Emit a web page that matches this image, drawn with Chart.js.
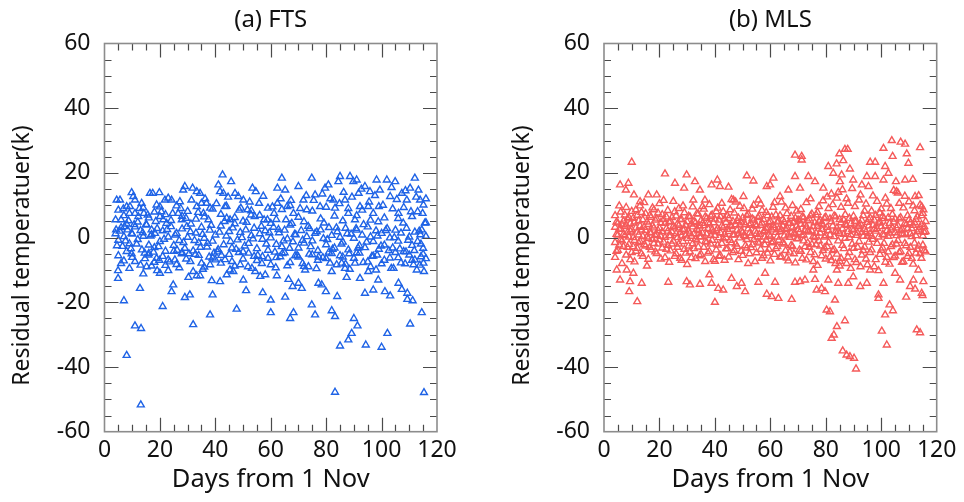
<!DOCTYPE html>
<html><head><meta charset="utf-8">
<script src="https://cdn.jsdelivr.net/npm/chart.js@4"></script>
<style>
html,body{margin:0;padding:0;background:#fff;}
#wrap{position:relative;width:964px;height:502px;overflow:hidden;}
.panel{position:absolute;top:0;width:482px;height:502px;}
</style></head><body>
<div id="wrap">
<div class="panel" style="left:0"><canvas id="c1" width="482" height="502"></canvas></div>
<div class="panel" style="left:482px"><canvas id="c2" width="482" height="502"></canvas></div>
</div>
<script>
// ---- text / ticks ----
const panelTitles = ['(a) FTS', '(b) MLS'];
const xAxisTitle = 'Days from 1 Nov';
const yAxisTitle = 'Residual temperatuer(k)      ';
const xRange = [0, 120];
const yRange = [-60, 60];
const xStep = 20;
const yStep = 20;

// ---- (a) FTS residuals: [day, residual K] ----
const ftsUpper = [[4.4,11.6],[5.6,11.6],[4,5.5],[6,5.5],[4.2,2.4],[9.8,13.9],[10.4,12.7],[11,11.6],[8,9.6],[9.2,9.6],[7.2,3.4],[8.3,2.4],[9.8,1.3],[11,7.5],[12.2,6.5],[13.4,10.6],[14.2,7.5],[16.4,13.7],[17.4,13.7],[18.8,10.1],[15.2,3.9],[17,2.4],[18.2,1.3],[19.8,13.9],[21.8,11.6],[23,12.2],[24.2,11.6],[20,6.5],[21.2,5.5],[22.4,4.4],[27.2,11.1],[28.4,14.7],[29,15.8],[26.6,7.5],[27.9,5.5],[29.7,3.4],[31.8,15.3],[33.3,14.2],[34.5,13.7],[31.4,11.6],[33.3,9.6],[35,10.6],[36.8,10.6],[38.1,9.1],[35.7,7.5],[37.5,5.5],[41.1,16.3],[41.7,14.2],[42.6,19.4],[42.9,13.7],[43.5,9.6],[44.1,6],[45.3,5.5],[45.7,17.3],[47.1,13.7],[48.3,12.7],[50.1,11.6],[49.2,9.1],[51.6,8.6],[52.9,7],[53.4,15.3],[54.6,14.2],[55.8,10.6],[57.6,5.5],[58.8,5.5],[60,4.4],[61.2,7.5],[62.4,10.6],[64,18.4],[65.2,14.7],[62.4,15.3],[65.9,9.6],[67.6,4.4],[68.2,7.5],[70,15.8],[71.8,11.6],[73,8.6],[74.8,18.4],[76,13.2],[77.8,9.6],[79.6,15.3],[80.8,16.3],[82.6,11.6],[83.2,9.1],[84.4,17.3],[85,18.9],[86.8,11.6],[88.6,18.9],[89.8,17.3],[91,17.8],[91.7,13.7],[88,7.5],[90.4,5.5],[92.2,9.6],[94,15.8],[95.8,14.2],[98.2,17.8],[99.4,14.7],[95.2,9.6],[97,7.5],[98.8,4.9],[101.9,17.8],[103.1,12.7],[104.9,17.3],[106.1,7.5],[107.3,13.7],[109.1,11.6],[110.3,15.3],[112,18.4],[113.3,14.7],[113.9,11.6],[115.1,10.1],[114.8,7.5],[114.5,2.4]];
const ftsLower = [[4.9,-10.2],[4.9,-12.6],[7,-19.5],[11,-27.3],[13.2,-28.1],[8,-36.4],[13.1,-51.7],[8,-4.3],[9.8,-5],[11,-7.4],[12.8,-15.7],[14,-11.2],[15.2,-9],[15.8,-5.4],[18.8,-6.4],[19,-10.2],[20,-11],[21,-21.3],[23,-10.2],[24.2,-16.7],[24.8,-14.6],[25.4,-6.9],[27.9,-5],[29,-18.5],[30.8,-17.7],[30.3,-12.3],[32,-10.5],[33.3,-11.8],[34.5,-11.8],[32,-26.9],[35,-7.9],[38.1,-8.4],[38.1,-23.9],[38.7,-13.3],[39,-17.7],[40,-6.9],[41.7,-13.6],[44.1,-11.5],[45.3,-10],[46.5,-10.5],[47.7,-22.1],[49,-8.4],[50.1,-13.1],[51.1,-16.4],[53.2,-9.5],[54.4,-10.5],[56.2,-12],[57.1,-17],[58,-11.5],[60,-19.3],[60,-23.2],[62.2,-11.8],[63.4,-5.9],[65.2,-18.4],[66.4,-12.9],[67,-25],[67.9,-15.1],[68.2,-23.2],[70,-14.1],[71.2,-15.7],[72.4,-10],[73.6,-9],[74.8,-20.8],[76,-23.9],[77.2,-14.1],[78.4,-14.6],[79.9,-16.7],[81.4,-7.9],[82,-22.6],[82,-10.5],[83.2,-24.4],[83.2,-47.8],[84,-18.2],[85,-33.5],[85.6,-7.9],[86.8,-9.5],[87.4,-12.3],[88,-31.6],[89.2,-29.6],[90,-25],[91.3,-27.3],[90.4,-7.9],[92.2,-12.6],[94,-17.2],[94.3,-33.2],[95.2,-10.5],[97,-16.2],[98,-10],[98.8,-13.1],[100,-33.9],[101.2,-16.7],[102.1,-29.6],[103.1,-18],[104.3,-9.5],[106.1,-14.1],[107.3,-16],[108.5,-8.1],[109.3,-17.2],[109.3,-19.1],[110.3,-26.7],[111.2,-19.5],[111.5,-8.4],[112.7,-10],[114.5,-23.2],[114.2,-5.9],[115.3,-47.9],[115.3,-10.5],[115.1,-7.9]];
const ftsMiddle = [[4,1.2],[5,-0.8],[6,3.1],[6.5,-2.7],[7,0.3],[8,4.2],[9,-1.9],[10,1.1],[11,3.3],[12,-0.6],[13,2.2],[13.5,-3.8],[14,0.4],[15,4.1],[16,-2.3],[17,0.9],[18,-3.1],[19,2.8],[20,-1.2],[21,2.1],[22,-4.2],[23,0.2],[24,3.4],[25,-2.4],[26,1.3],[27,-0.9],[28,2.7],[29,-3.3],[30,0.1],[31,1.8],[32,-4.1],[33,1.4],[34,-1.6],[35,3.2],[36,-0.2],[37,-2.9],[38,2.3],[39,-1.1],[40,0.8],[41,-3.7],[42,3.6],[43,-2.2],[44,0.5],[45,1.9],[46,-3.2],[47,4.3],[48,-0.7],[49,1.6],[50,-4.4],[51,2.4],[52,-1.8],[53,0.6],[54,2.9],[55,-3.4],[56,1.2],[57,-0.5],[58,2.1],[59,-3.9],[60,-0.1],[61,3.2],[62,-2.1],[63,1.5],[64,-2.8],[65,2.3],[66,-0.4],[67,3.9],[68,-1.3],[69,0.9],[70,-3.2],[71,2.2],[72,-1.7],[73,0.3],[74,2.8],[75,-1.0],[76,1.3],[77,-4.0],[78,2.4],[79,-0.3],[80,-2.2],[81,3.1],[82,0.7],[83,-3.2],[84,1.8],[85,0.1],[86,-1.4],[87,2.9],[88,-3.8],[89,1.1],[90,-0.2],[91,2.3],[92,-2.5],[93,0.8],[94,-3.1],[95,3.3],[96,0.2],[97,-1.2],[98,2.1],[99,-3.6],[100,1.3],[101,-2.3],[102,2.8],[103,-0.1],[104,-3.2],[105,2.3],[106,-1.1],[107,1.4],[108,-4.3],[109,2.9],[110,0.2],[111,-2.4],[112,1.7],[113,-1.2],[114,0.9],[115,-3.3],[116,0.4],
[5,8.5],[7,6.8],[9,7.5],[12,4.8],[14,9.2],[16,6.1],[18,7.9],[20,9.5],[22,7.1],[24,5.3],[26,9.8],[28,6.6],[30,8.1],[33,5.7],[36,6.4],[39,8.8],[42,7.2],[44,9.7],[47,6.2],[50,5.1],[53,8.3],[56,6.9],[59,9.1],[62,5.6],[64,8.7],[67,9.9],[70,6.3],[72,4.9],[75,8.2],[78,5.8],[80,9.4],[83,6.7],[86,5.2],[88,9.0],[91,6.8],[93,8.5],[96,5.4],[99,9.6],[101,6.1],[104,8.9],[106,5.9],[108,9.3],[111,6.5],[113,8.0],[116,4.6],
[5,-5.6],[7,-7.2],[10,-6.1],[13,-8.5],[16,-4.9],[18,-7.6],[21,-5.8],[23,-6.9],[26,-8.3],[28,-4.6],[31,-7.4],[34,-5.5],[36,-9.1],[39,-6.3],[42,-7.9],[45,-5.2],[47,-8.8],[50,-6.6],[52,-4.8],[55,-7.1],[57,-5.9],[60,-8.4],[62,-6.2],[65,-4.7],[67,-7.7],[70,-6.0],[72,-8.9],[75,-5.3],[77,-7.0],[80,-6.5],[82,-4.9],[85,-5.6],[87,-8.2],[90,-6.4],[92,-4.8],[95,-7.5],[97,-5.7],[100,-8.1],[103,-6.3],[105,-4.6],[107,-7.8],[110,-5.4],[112,-6.9],[115,-5.1]];
const ftsExtra = [[4.5,-2.5],[5.5,2.0],[6.8,8.9],[7.6,-1.0],[8.7,5.2],[9.5,-3.4],[10.7,4.0],[11.6,-2.0],[12.6,9.0],[13.8,1.5],[14.6,-6.5],[15.6,7.0],[16.6,0.5],[17.7,-4.5],[18.5,5.0],[19.5,-2.8],[20.5,8.0],[21.5,-0.5],[22.6,2.5],[23.5,-7.5],[24.6,7.5],[25.5,0.8],[26.2,-3.9],[27.5,9.0],[28.5,-1.5],[29.4,6.0],[30.5,-5.0],[31.2,4.2],[32.5,-0.9],[33.8,7.8],[34.6,-3.0],[35.4,1.0],[36.3,12.0],[37.2,-1.8],[38.5,3.8],[39.5,-4.8],[40.4,10.5],[41.5,1.7],[42.2,-5.5],[43.3,5.0],[44.6,12.5],[45.5,-1.2],[46.3,3.0],[47.5,-3.6],[48.6,8.5],[49.6,0.0],[50.6,-2.6],[51.3,4.7],[52.4,11.0],[53.6,-0.4],[54.2,6.5],[55.3,-5.5],[56.6,3.5],[57.3,12.8],[58.4,-2.0],[59.5,1.5],[60.6,9.5],[61.5,-4.5],[62.8,2.5],[63.6,12.0],[64.6,-1.0],[65.5,5.5],[66.8,-3.3],[67.3,11.5],[68.6,1.0],[69.5,-5.5],[70.6,9.0],[71.5,-0.8],[72.8,13.0],[73.5,3.5],[74.4,-2.8],[75.5,11.5],[76.6,1.8],[77.3,-6.0],[78.6,13.5],[79.2,4.5],[80.4,-0.6],[81.5,12.0],[82.3,-3.6],[83.7,3.0],[84.8,10.5],[85.5,-2.0],[86.3,14.0],[87.6,1.2],[88.3,-5.0],[89.3,12.5],[90.8,2.8],[91.5,-3.2],[92.7,15.0],[93.5,4.0],[94.6,-1.4],[95.5,11.0],[96.5,-5.8],[97.6,13.0],[98.5,0.5],[99.8,-2.6],[100.5,10.0],[101.5,2.2],[102.6,-4.0],[103.6,15.5],[104.6,0.0],[105.5,11.8],[106.6,-3.5],[107.8,4.5],[108.6,14.5],[109.6,-0.8],[110.6,8.0],[111.8,-4.0],[112.5,12.5],[113.6,2.0],[114.2,-2.0],[115.6,4.5],[116,12.0],
[6,-8.0],[9,-9.5],[14.5,-4.8],[17,-8.8],[19.8,-7.0],[22,-8.6],[25,-4.2],[27,-9.3],[29.5,-6.6],[32.8,-5.2],[35.5,-9.8],[37.8,-6.0],[40.8,-4.4],[43.5,-6.8],[46,-7.4],[48.5,-4.6],[51.8,-9.0],[54,-5.8],[56.8,-8.0],[59,-6.4],[61.8,-9.3],[64.2,-4.9],[66,-8.7],[68.8,-5.6],[71.5,-8.0],[73.9,-5.1],[76.5,-9.6],[78.8,-6.2],[81,-4.5],[83.8,-8.4],[86,-6.0],[88.5,-9.8],[91,-4.7],[93.4,-7.7],[96,-9.0],[98.4,-5.4],[101,-7.0],[103.5,-9.5],[106,-6.2],[108.8,-4.4],[111,-7.0],[113.8,-8.5],[116,-6.5]];

// ---- (b) MLS residuals: [day, residual K] ----
const mlsUpper = [[10,23.3],[5.8,16.3],[8.8,16.8],[7.9,14.7],[10.8,13.2],[13,11.1],[16,13.2],[19,13.2],[22,19.7],[25.6,16.8],[29.8,19.4],[28.9,15.3],[32.8,17.3],[34.6,14.7],[32.2,11.6],[36.4,11.6],[38.8,16.3],[40.9,17.8],[41.8,15.8],[44.9,15.6],[46.7,11.6],[51.5,19.1],[53.9,17.5],[50.3,12.7],[55.7,11.6],[58.7,15.8],[61.1,18.4],[59.9,16.3],[63.5,12.7],[66.5,14.7],[68.9,25.5],[68.9,18.9],[71.3,25.1],[71.3,24],[70.7,15.3],[73.7,18.9],[76.1,17.3],[79.1,15.3],[80.9,22],[82.7,19.9],[83.9,22.8],[84.9,25.9],[86.3,23.8],[86.9,27.3],[87.9,27.3],[85.7,19.4],[85.1,17.3],[88.7,21.2],[89.9,17.8],[93,16.3],[94.8,18.9],[96,23.3],[97.8,23.3],[95.4,15.8],[97.8,18.9],[100.8,17.8],[100.8,27.6],[101.4,22],[103.8,30],[104.1,25.1],[102.6,19.9],[107,29.5],[108.6,28.9],[109.2,25.9],[109.8,23],[108.6,17.8],[111.4,18],[112.2,12.7],[114,27.8],[114.6,9.6],[115.2,8.6],[105.3,17.3],[105.5,14.2]];
const mlsLower = [[5.8,-13.1],[9.4,-13.6],[9.1,-16.7],[12,-19.8],[13.6,-14.1],[4.6,-10],[8.2,-10],[10.6,-11],[23.2,-13.8],[29.8,-13.6],[31,-14.6],[34.6,-14.4],[38,-11.5],[38.8,-14.1],[40,-20],[41.2,-15.7],[43,-16.2],[46,-12.6],[47.9,-15.1],[49.6,-14.1],[50.9,-16.7],[55.7,-13.8],[58.1,-11],[58.7,-17.5],[60.5,-18.2],[62.9,-18.8],[61.7,-13.8],[67.7,-19.1],[68.9,-13.8],[70.7,-13.6],[72.5,-13.1],[75.5,-10],[76.1,-12.9],[76.7,-16.2],[78.5,-15.7],[79.7,-16.7],[80.9,-13.1],[80.3,-22.4],[81.5,-22.9],[82.1,-31.1],[82.9,-30.1],[83.3,-19.3],[84,-27.5],[84.5,-14.1],[84,-10],[85.1,-7.4],[86.9,-25.7],[86.1,-35],[87.5,-36.3],[88.7,-36.8],[90.2,-37.3],[90.9,-40.6],[88.1,-14.1],[89.9,-12.1],[92.4,-15.1],[94.8,-14.1],[96,-10],[99,-17.7],[99,-18.8],[100.2,-28.9],[101.4,-23.9],[102,-33.2],[103,-20.8],[104.2,-22.6],[100.8,-14.1],[105,-11],[106.8,-13.1],[109,-18.4],[110.4,-15.1],[111.6,-13.1],[112.2,-15.9],[112.8,-28.5],[114,-29.4],[114.6,-17.2],[115.2,-13.6],[114.9,-17.9],[113.4,-10]];
// dense band: [day, value, value, ...]
const mlsDaily = [[4,3.2,-1.5,6.8,-6.1],[5,0.8,4.5,-3.9],[6,7.9,-0.6,2.7],[7,-2.8,5.1,1.0],[8,3.9,-5.4,9.3],[9,0.2,6.2,-2.1],[10,2.5,-4.6,8.1],[11,4.8,-0.9,-7.5],[12,1.7,6.9,-3.3],[13,-1.2,3.6,9.8],[14,5.5,0.4,-5.8],[15,2.2,-2.6,7.4],[16,-0.3,4.1,-6.7],[17,6.3,1.4,-3.8],[18,3.0,-1.8,8.6],[19,0.9,5.8,-4.9],[20,2.9,-0.7,10.5],[21,7.1,-3.2,1.8],[22,4.4,-6.2,0.1],[23,2.0,8.4,-2.4],[24,-4.1,5.0,0.6],[25,3.5,-1.1,11.2],[26,6.7,1.2,-5.0],[27,-2.0,3.8,9.0],[28,0.5,5.6,-7.0],[29,2.6,-3.6,7.7],[30,4.9,-0.2,-8.3],[31,1.3,6.4,-4.4],[32,3.3,-1.9,9.5],[33,-0.5,4.6,-6.5],[34,7.3,2.1,-2.9],[35,0.3,5.3,-5.2],[36,3.7,-3.0,8.8],[37,1.1,6.0,-1.4],[38,4.2,-4.3,10.2],[39,-0.8,2.4,7.0],[40,5.7,0.7,-7.3],[41,2.8,-2.3,9.1],[42,6.5,-5.6,1.5],[43,3.1,-0.4,8.0],[44,0.0,4.7,-3.5],[45,5.9,1.9,-6.0],[46,3.4,-1.6,11.8],[47,7.6,0.9,-4.0],[48,2.3,5.2,-2.7],[49,-0.1,3.9,9.7],[50,6.1,1.6,-5.5],[51,4.0,-2.5,0.3],[52,2.7,7.2,-8.0],[53,0.6,4.3,-3.1],[54,5.4,-0.6,10.0],[55,3.6,-4.7,1.2],[56,1.0,6.6,-1.7],[57,4.5,-6.4,8.4],[58,2.1,0.2,-2.2],[59,6.8,3.0,-4.8],[60,0.4,5.0,-7.2],[61,3.8,-1.3,9.4],[62,1.6,7.0,-3.4],[63,5.1,-0.8,2.6],[64,2.4,-5.9,11.0],[65,4.8,0.5,-2.0],[66,7.4,2.9,-6.3],[67,0.1,4.4,-4.5],[68,3.2,-2.8,9.9],[69,6.0,1.1,-7.8],[70,2.5,-0.3,5.5],[71,4.1,-4.2,8.7],[72,0.8,6.2,-1.0],[73,3.3,-6.9,10.8],[74,5.8,1.7,-3.0],[75,2.0,-2.1,7.3],[76,4.6,0.0,-5.3],[77,7.8,3.5,-8.6],[78,1.4,5.4,-2.6],[79,3.9,-4.0,11.4],[80,6.3,0.6,-6.6],[81,2.2,-1.5,9.0],[82,4.9,-7.1,13.5],[83,0.3,6.7,-3.7],[84,3.0,-5.1,12.2],[85,5.6,1.3,-8.8],[86,2.7,-2.4,14.8],[87,7.1,-0.2,4.1],[88,1.9,-6.0,10.6],[89,4.3,0.9,-9.5],[90,6.6,-3.3,2.3],[91,0.7,5.0,-7.7],[92,3.6,-1.2,11.6],[93,5.3,-5.4,1.6],[94,2.5,8.2,-2.9],[95,4.7,-8.4,0.4],[96,1.2,6.1,-4.6],[97,3.8,-0.5,12.9],[98,6.9,2.0,-6.8],[99,0.2,4.5,-10.2],[100,3.4,-3.9,8.9],[101,5.9,0.8,-1.8],[102,2.1,-6.1,10.4],[103,4.4,1.4,-8.2],[104,7.2,-2.2,3.0],[105,1.5,5.7,-5.7],[106,3.7,-0.9,13.8],[107,6.2,2.2,-4.3],[108,0.9,-7.4,9.2],[109,4.0,1.0,-2.5],[110,5.5,-4.9,11.1],[111,2.8,0.3,-6.4],[112,4.6,-1.7,8.3],[113,1.8,6.4,-3.6],[114,3.1,-5.0,10.1],[115,0.5,7.5,-2.3],[116,5.0,-4.4,1.9]];
const mlsDaily2 = [[4.5,1.0,-4.2,4.8],[5.5,2.6,-2.3,9.8],[6.5,-1.0,4.0,-8.0],[7.5,3.4,0.6,7.0],[8.5,5.8,-3.0,1.6],[9.5,2.0,-6.8,4.4],[10.5,0.0,6.0,-2.8],[11.5,3.0,8.6,-4.2],[12.5,5.2,-1.6,0.8],[13.5,2.4,-5.0,7.8],[14.5,-2.2,3.2,10.8],[15.5,4.8,0.2,-8.8],[16.5,1.6,6.8,-3.0],[17.5,3.6,-0.6,9.2],[18.5,5.4,-4.4,0.6],[19.5,2.2,-2.0,7.6],[20.5,4.6,0.4,-6.6],[21.5,-1.4,5.6,11.5],[22.5,2.8,-3.6,6.4],[23.5,0.6,4.8,-7.6],[24.5,6.2,1.8,-2.0],[25.5,3.0,-5.8,8.0],[26.5,0.0,4.2,-3.0],[27.5,5.6,1.6,-6.4],[28.5,2.4,-1.2,9.8],[29.5,-4.8,3.8,0.8],[30.5,6.6,2.0,-2.6],[31.5,0.4,4.2,-6.2],[32.5,5.0,-3.4,1.2],[33.5,2.6,7.4,-1.0],[34.5,-5.6,3.6,0.2],[35.5,4.4,1.4,9.6],[36.5,6.4,-1.2,-7.4],[37.5,2.8,-4.8,4.6],[38.5,0.6,6.6,-2.0],[39.5,4.6,-6.8,1.8],[40.5,2.2,8.0,-3.8],[41.5,5.4,0.0,-5.8],[42.5,3.6,-1.8,10.6],[43.5,1.0,5.8,-7.0],[44.5,6.8,-3.4,2.6],[45.5,3.8,-0.8,8.6],[46.5,0.8,5.0,-4.6],[47.5,4.0,-2.0,11.0],[48.5,6.0,1.2,-6.8],[49.5,2.0,-4.2,4.8],[50.5,4.6,0.6,9.0],[51.5,-0.6,6.8,-3.2],[52.5,3.8,1.4,-5.0],[53.5,5.8,-2.2,8.8],[54.5,2.0,4.0,-7.4],[55.5,0.2,6.2,-1.4],[56.5,3.8,-3.6,10.4],[57.5,5.6,1.8,-5.6],[58.5,2.8,-0.8,7.8],[59.5,0.8,4.6,-3.6],[60.5,6.4,2.4,-1.6],[61.5,3.0,-5.2,10.8],[62.5,4.8,0.2,-2.8],[63.5,1.8,6.8,-6.0],[64.5,5.6,-1.6,3.6],[65.5,2.6,-4.0,9.2],[66.5,4.4,0.8,-7.2],[67.5,6.6,-2.4,1.4],[68.5,1.2,4.8,-5.0],[69.5,3.6,-0.4,8.2],[70.5,5.2,1.6,-3.8],[71.5,0.6,6.4,-6.4],[72.5,4.2,-2.8,2.2],[73.5,2.0,5.2,-1.6],[74.5,6.8,-4.6,12.0],[75.5,3.4,0.4,-7.4],[76.5,1.4,7.0,-2.2],[77.5,5.0,-1.0,9.6],[78.5,2.6,-5.6,4.2],[79.5,6.0,0.2,-3.2],[80.5,3.2,-2.8,12.6],[81.5,0.8,5.8,-6.0],[82.5,3.6,-4.0,10.2],[83.5,6.4,1.8,-8.0],[84.5,2.0,-1.0,14.0],[85.5,4.6,-6.4,9.4],[86.5,1.0,5.4,-3.4],[87.5,3.8,-8.0,12.0],[88.5,6.0,0.0,-4.6],[89.5,2.6,-2.0,15.2],[90.5,5.0,-6.8,9.6],[91.5,1.4,3.4,-3.0],[92.5,4.2,-9.0,13.2],[93.5,6.8,0.4,-4.0],[94.5,1.8,-6.6,10.4],[95.5,3.6,5.6,-1.4],[96.5,0.4,-3.8,8.2],[97.5,5.4,2.6,-9.0],[98.5,2.8,-1.8,11.2],[99.5,4.8,-5.2,7.6],[100.5,1.0,6.6,-3.2],[101.5,3.6,-7.6,12.2],[102.5,6.2,0.4,-4.4],[103.5,2.4,-2.8,9.0],[104.5,4.8,-6.2,14.6],[105.5,0.6,3.0,-2.0],[106.5,5.8,-4.6,10.6],[107.5,2.6,1.2,-7.6],[108.5,4.4,-1.8,12.8],[109.5,6.8,-5.8,2.8],[110.5,1.2,4.6,-3.0],[111.5,3.8,-8.2,9.8],[112.5,5.6,0.6,-4.8],[113.5,2.4,-2.6,13.0],[114.5,4.0,-6.4,6.8],[115.5,1.6,3.4,-4.0]];

const ftsColor = '#1f63e6';
const mlsColor = '#f55a5a';

function pairsToPts(arr){ return arr.map(p => ({x:p[0], y:p[1]})); }
function dailyToPts(arr){
  const out = [];
  arr.forEach(r => { for (let i = 1; i < r.length; i++) out.push({x:r[0], y:r[i]}); });
  return out;
}

const ftsData = pairsToPts(ftsMiddle).concat(pairsToPts(ftsExtra), pairsToPts(ftsUpper), pairsToPts(ftsLower));
const mlsData = dailyToPts(mlsDaily).concat(dailyToPts(mlsDaily2), pairsToPts(mlsUpper), pairsToPts(mlsLower));

const FONT = "'Noto Sans', 'Open Sans', sans-serif";

const framePlugin = {
  id: 'frame',
  afterDatasetsDraw(chart) {
    const {ctx, chartArea: a, scales: {x, y}} = chart;
    ctx.save();
    ctx.strokeStyle = '#4a4a4a';
    ctx.lineWidth = 1.2;
    ctx.beginPath();
    for (let v = xRange[0] + 5; v < xRange[1]; v += 5) {
      const px = Math.round(x.getPixelForValue(v)) + 0.5;
      const len = (v % 20 === 0) ? 14 : 7;
      ctx.moveTo(px, a.bottom); ctx.lineTo(px, a.bottom - len);
      ctx.moveTo(px, a.top); ctx.lineTo(px, a.top + len);
    }
    for (let v = yRange[0] + 5; v < yRange[1]; v += 5) {
      const py = Math.round(y.getPixelForValue(v)) + 0.5;
      const len = (v % 20 === 0) ? 14 : 7;
      ctx.moveTo(a.left, py); ctx.lineTo(a.left + len, py);
      ctx.moveTo(a.right, py); ctx.lineTo(a.right - len, py);
    }
    ctx.stroke();
    ctx.strokeStyle = '#8c8c8c';
    ctx.lineWidth = 1.6;
    ctx.strokeRect(a.left, a.top, a.right - a.left, a.bottom - a.top);
    ctx.restore();
  }
};

function makeChart(id, title, data, color, yAxisWidth, yTitlePad, padRight) {
  return new Chart(document.getElementById(id), {
    type: 'scatter',
    data: { datasets: [{
      data: data,
      pointStyle: 'triangle',
      radius: 4,
      borderWidth: 1.4,
      borderColor: color,
      backgroundColor: 'rgba(255,255,255,0)'
    }]},
    options: {
      responsive: false,
      animation: false,
      devicePixelRatio: 1,
      layout: { padding: { left: 0, right: padRight, top: 0, bottom: 0 } },
      plugins: {
        legend: { display: false },
        tooltip: { enabled: false },
        title: {
          display: true, text: title, fullSize: false,
          color: '#111', font: { family: FONT, size: 24, weight: 'normal', lineHeight: 1.2 },
          padding: { top: 6, bottom: 8.7 }
        }
      },
      scales: {
        x: {
          type: 'linear', min: xRange[0], max: xRange[1],
          grid: { display: false, drawTicks: false },
          border: { display: false },
          ticks: { stepSize: xStep, color: '#111', font: { family: FONT, size: 23 }, padding: 5, maxRotation: 0 },
          title: { display: true, text: xAxisTitle, color: '#111', font: { family: FONT, size: 25.5, lineHeight: 1.2 }, padding: { top: 0, bottom: 6.7 } },
          afterFit(s) { s.height = 70.3; }
        },
        y: {
          type: 'linear', min: yRange[0], max: yRange[1],
          grid: { display: false, drawTicks: false },
          border: { display: false },
          ticks: { stepSize: yStep, color: '#111', font: { family: FONT, size: 23 }, padding: 14 },
          title: { display: true, text: yAxisTitle, color: '#111', font: { family: FONT, size: 23, lineHeight: 1.2 }, padding: { top: yTitlePad, bottom: 0 } },
          afterFit(s) { s.width = yAxisWidth; }
        }
      }
    },
    plugins: [framePlugin]
  });
}

makeChart('c1', panelTitles[0], ftsData, ftsColor, 104.5, 8.2, 45);
makeChart('c2', panelTitles[1], mlsData, mlsColor, 122, 26.2, 27.3);
</script>
</body></html>
